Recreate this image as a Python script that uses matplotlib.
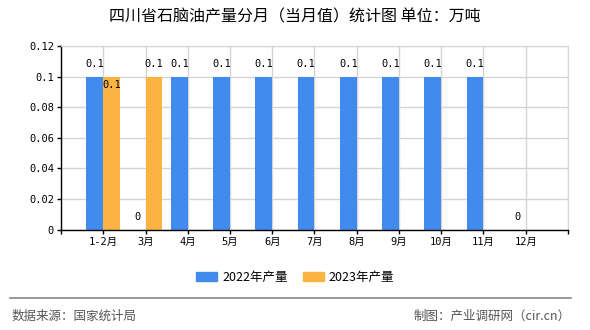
import matplotlib
matplotlib.use('Agg')
from matplotlib import pyplot as plt
from matplotlib.patches import Patch
import numpy as np

plt.rcParams['font.family'] = ['Noto Sans CJK SC', 'DejaVu Sans']

months = ['1-2月', '3月', '4月', '5月', '6月', '7月', '8月', '9月', '10月', '11月', '12月']
y2022 = [0.1, 0, 0.1, 0.1, 0.1, 0.1, 0.1, 0.1, 0.1, 0.1, 0]
y2023 = [0.1, 0.1, None, None, None, None, None, None, None, None, None]
series_names = ['2022年产量', '2023年产量']

title = '四川省石脑油产量分月（当月值）统计图 单位：万吨'
source = '数据来源：国家统计局'
credit = '制图：产业调研网（cir.cn）'

blue = '#418BEF'
orange = '#FBB441'
grid_c = '#d4d4d4'
mono = ['DejaVu Sans Mono', 'Noto Sans CJK SC']

fig = plt.figure(figsize=(5.9, 3.3), dpi=100)
ax = fig.add_axes([0.1034, 0.3045, 0.8593, 0.5561])

x = np.arange(len(months))
w = 0.4

# grid first so bars cover it
ax.set_axisbelow(True)
ax.grid(True, color=grid_c, linewidth=1)

for i, v in enumerate(y2022):
    ax.bar(x[i] - w / 2, v, w, color=blue, zorder=2)
    ax.annotate('0.1' if v else '0', (x[i] - w / 2, v), xytext=(0, 9),
                textcoords='offset points', ha='center', va='center',
                fontsize=7.5, family=mono)
for i, v in enumerate(y2023):
    if v is None:
        continue
    ax.bar(x[i] + w / 2, v, w, color=orange, zorder=2)
    # label moves into the bar when it would collide with the 2022 label
    dy = -6 if y2022[i] == v else 9
    ax.annotate('0.1' if v else '0', (x[i] + w / 2, v), xytext=(0, dy),
                textcoords='offset points', ha='center', va='center',
                fontsize=7.5, family=mono)

ax.set_xlim(-1, len(months))
ax.set_ylim(0, 0.12)
ax.set_xticks(np.arange(-1, len(months) + 1))
ax.set_xticklabels([''] + months + [''], fontsize=7.5, family=mono)
ax.set_yticks([0, 0.02, 0.04, 0.06, 0.08, 0.1, 0.12])
ax.set_yticklabels(['0', '0.02', '0.04', '0.06', '0.08', '0.1', '0.12'],
                   fontsize=7.5, family=mono)
ax.tick_params(axis='both', length=3, width=1, color='black', pad=2)

for s in ['top', 'right']:
    ax.spines[s].set_color(grid_c)
for s in ['left', 'bottom']:
    ax.spines[s].set_color('black')
    ax.spines[s].set_linewidth(1)

fig.text(0.5, 0.948, title, ha='center', va='center', fontsize=11.5)

handles = [Patch(color=blue), Patch(color=orange)]
fig.legend(handles, series_names, loc='center', bbox_to_anchor=(0.5, 0.16),
           ncol=2, frameon=False, fontsize=9, handlelength=1.7, handleheight=0.7,
           columnspacing=1.2, handletextpad=0.4)

fig.add_artist(plt.Line2D([10 / 590, 571 / 590], [1 - 298 / 330] * 2,
                          color='#888888', linewidth=1.2))
fig.text(12 / 590, 1 - 316 / 330, source, ha='left', va='center',
         fontsize=9, color='#555555')
fig.text(571 / 590, 1 - 316 / 330, credit, ha='right', va='center',
         fontsize=9, color='#555555')

fig.savefig('out.png', dpi=100)
